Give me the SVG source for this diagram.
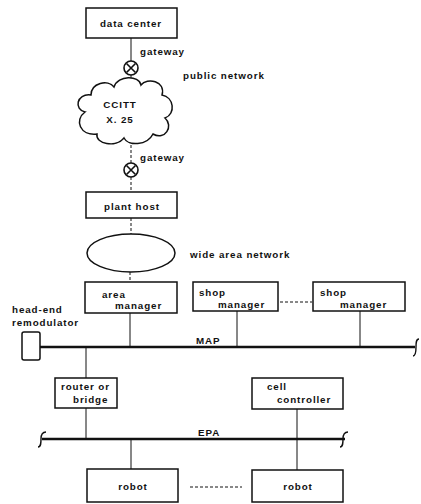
<svg xmlns="http://www.w3.org/2000/svg" width="421" height="504" viewBox="0 0 421 504">
<style>
.box{fill:#fff;stroke:#111;stroke-width:1.5}
.ln{fill:none;stroke:#111;stroke-width:1}
.gw{fill:none;stroke:#111;stroke-width:1.6}
.dash{fill:none;stroke:#111;stroke-width:1;stroke-dasharray:3 2}
.bus{fill:none;stroke:#111;stroke-width:2.6}
.sq{fill:none;stroke:#111;stroke-width:1.4}
text{font-family:"Liberation Sans",Arial,sans-serif;font-weight:bold;font-size:9.8px;letter-spacing:0.9px;fill:#111}
.c{text-anchor:middle}
</style>
<rect width="421" height="504" fill="#fff"/>
<g id="connectors">
<line class="ln" x1="131" y1="38" x2="131" y2="61"/>
<line class="ln" x1="131" y1="75" x2="131" y2="82"/>
<line class="dash" x1="131" y1="140" x2="131" y2="163"/>
<line class="dash" x1="131" y1="177" x2="131" y2="192"/>
<line class="dash" x1="131" y1="218" x2="131" y2="234"/>
<line class="dash" x1="130" y1="272" x2="130" y2="282"/>
<line class="ln" x1="130" y1="313" x2="130" y2="347"/>
<line class="ln" x1="237" y1="311" x2="237" y2="347"/>
<line class="ln" x1="360" y1="311" x2="360" y2="347"/>
<line class="dash" x1="280" y1="302" x2="312" y2="302"/>
<line class="bus" x1="40" y1="347" x2="415" y2="347"/>
<path class="sq" d="M413,356 C416,356 416,351 416,347 C416,343 416,339 419,339"/>
<line class="ln" x1="86" y1="347" x2="86" y2="378"/>
<line class="ln" x1="86" y1="408" x2="86" y2="439"/>
<line class="bus" x1="42" y1="439" x2="345" y2="439"/>
<path class="sq" d="M38,447 C41,447 41,443 41,439 C41,435 42,432 46,432"/>
<path class="sq" d="M340,447 C343,447 343,443 343,439 C343,435 344,432 348,432"/>
<line class="ln" x1="297" y1="409" x2="297" y2="470"/>
<line class="ln" x1="131" y1="439" x2="131" y2="469"/>
<line class="dash" x1="190" y1="487" x2="242" y2="487"/>
</g>
<g id="data-center">
<rect class="box" x="86" y="8" width="91" height="30"/>
<text class="c" x="131" y="27">data center</text>
</g>
<g id="gateway-1">
<circle class="gw" cx="131" cy="68" r="7"/>
<path class="gw" d="M126.5,63.5 L135.5,72.5 M135.5,63.5 L126.5,72.5"/>
<text x="140" y="55">gateway</text>
</g>
<text x="183" y="79">public network</text>
<g id="ccitt-x25">
<path class="box" d="M85,112 C74,110 76,93 91,95 C91,83 108,79 114,87 C118,75 139,75 141,85 C147,77 166,81 162,95 C174,97 176,114 165,118 C174,126 165,141 153,134 C147,146 128,146 124,138 C116,148 95,144 97,134 C80,136 74,120 85,112 Z"/>
<text class="c" x="120" y="108">CCITT</text>
<text class="c" x="120" y="123">X. 25</text>
</g>
<g id="gateway-2">
<circle class="gw" cx="131" cy="170" r="7"/>
<path class="gw" d="M126.5,165.5 L135.5,174.5 M135.5,165.5 L126.5,174.5"/>
<text x="140" y="161">gateway</text>
</g>
<g id="plant-host">
<rect class="box" x="86" y="192" width="91" height="26"/>
<text class="c" x="132" y="210">plant host</text>
</g>
<g id="wide-area-network">
<ellipse class="box" cx="131" cy="253" rx="44" ry="19"/>
<text x="190" y="258">wide area network</text>
</g>
<g id="area-manager">
<rect class="box" x="85" y="282" width="92" height="31"/>
<text x="102" y="298">area</text>
<text x="115" y="309">manager</text>
</g>
<g id="shop-manager-1">
<rect class="box" x="193" y="282" width="85" height="29"/>
<text x="199" y="296">shop</text>
<text x="218" y="308">manager</text>
</g>
<g id="shop-manager-2">
<rect class="box" x="313" y="282" width="92" height="29"/>
<text x="320" y="296">shop</text>
<text x="340" y="308">manager</text>
</g>
<g id="head-end-remodulator">
<rect class="box" x="22" y="332" width="18" height="28" rx="2"/>
<text x="12" y="313">head-end</text>
<text x="12" y="326">remodulator</text>
</g>
<text x="196" y="344">MAP</text>
<g id="router-or-bridge">
<rect class="box" x="55" y="378" width="62" height="30"/>
<text x="61" y="390">router or</text>
<text x="73" y="403">bridge</text>
</g>
<g id="cell-controller">
<rect class="box" x="252" y="378" width="91" height="31"/>
<text x="267" y="390">cell</text>
<text x="277" y="403">controller</text>
</g>
<text x="198" y="436">EPA</text>
<g id="robot-1">
<rect class="box" x="87" y="469" width="91" height="33"/>
<text class="c" x="133" y="490">robot</text>
</g>
<g id="robot-2">
<rect class="box" x="252" y="470" width="91" height="32"/>
<text class="c" x="298" y="490">robot</text>
</g>
</svg>
